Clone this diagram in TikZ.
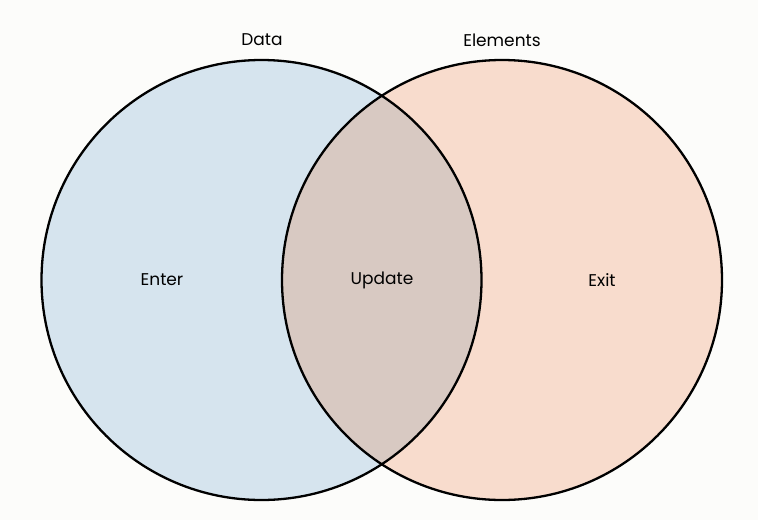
\documentclass[tikz,border=0pt]{standalone}
\usepackage{fontspec}
\setmainfont{Poppins}
\definecolor{enterfill}{RGB}{214,228,238}
\definecolor{exitfill}{RGB}{248,220,205}
\definecolor{updatefill}{RGB}{216,201,194}
\definecolor{pagebg}{RGB}{252,252,250}
\begin{document}
\begin{tikzpicture}[x=1pt,y=1pt,yscale=-1,xscale=1]
\tikzset{
  setlabel/.style={inner sep=0.75pt,font=\fontsize{17}{20}\selectfont},
  setring/.style={draw=black,line width=2.3pt}
}
%Shape: background
\fill[pagebg] (0,0) rectangle (758,520);
\useasboundingbox (0,0) rectangle (758,520);

%Shape: Circle fills
\fill[enterfill] (261.5,280) circle (220);
\fill[exitfill] (502,280) circle (220);
\begin{scope}
\clip (261.5,280) circle (220);
\fill[updatefill] (502,280) circle (220);
\end{scope}
%Shape: Circle outlines
\draw[setring] (261.5,280) circle (220);
\draw[setring] (502,280) circle (220);

% Text Node
\node[setlabel] (data) at (262,40) {Data};
% Text Node
\node[setlabel] (elements) at (502,40) {Elements};
% Text Node
\node[setlabel] (enter) at (162,280) {Enter};
% Text Node
\node[setlabel] (update) at (382,280) {Update};
% Text Node
\node[setlabel] (exit) at (602,280) {Exit};
\end{tikzpicture}
\end{document}
